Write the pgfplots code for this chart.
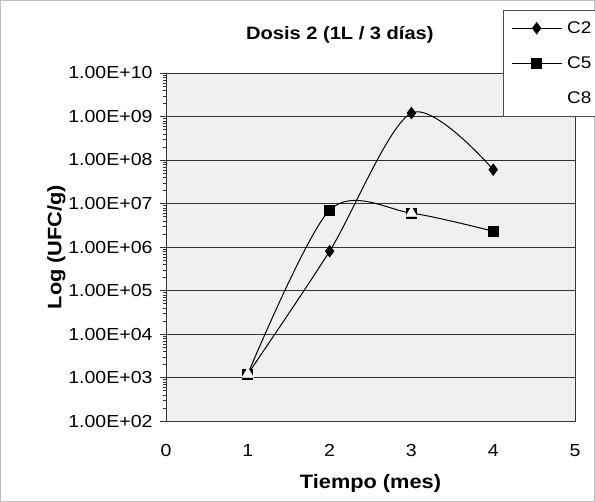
\documentclass[border=0pt]{standalone}
\usepackage{pgfplots}
\pgfplotsset{compat=1.18}
\usepackage{fontspec}
\setmainfont{Liberation Sans}[FakeStretch=1.12]

% valores (UFC/g)
\pgfplotstableread{
x y
1 1.2e3
2 8.0e5
3 1.2e9
4 6.0e7
}\cdos
\pgfplotstableread{
x y
1 1.2e3
2 7.0e6
3 6.0e6
4 2.3e6
}\ccinco
\pgfplotstableread{
x y
1 1.2e3
3 6.0e6
}\cocho

\begin{document}
\begin{tikzpicture}
\useasboundingbox (0,0) rectangle (595bp,502bp);
\draw[black!25] (0.5bp,0.5bp) rectangle (594.5bp,501.5bp);
\begin{axis}[
    at={(166bp,81bp)}, anchor=south west,
    scale only axis,
    width=409bp, height=348bp,
    ymode=log,
    xmin=0, xmax=5,
    ymin=1e2, ymax=1e10,
    xtick={0,1,2,3,4,5},
    ytick={1e2,1e3,1e4,1e5,1e6,1e7,1e8,1e9,1e10},
    yticklabels={1.00E+02,1.00E+03,1.00E+04,1.00E+05,1.00E+06,1.00E+07,1.00E+08,1.00E+09,1.00E+10},
    minor ytick={},
    /pgf/number format/assume math mode=true,
    ymajorgrids,
    grid style={black!80, line width=0.6pt},
    axis line style={black!80, line width=0.8pt},
    axis background/.style={fill=black!6},
    tick align=outside,
    major tick length=6bp,
    xtick style={draw=none},
    ytick style={black!80},
    xtick pos=bottom, ytick pos=left,
    tick label style={font=\fontsize{17.5}{20}\selectfont},
    yticklabel style={xshift=-4bp},
    xticklabel style={yshift=-14bp},
    xlabel={\textbf{Tiempo (mes)}},
    ylabel={\textbf{Log (UFC/g)}},
    label style={font=\fontsize{19.5}{22}\selectfont},
    xlabel style={yshift=-11bp},
    ylabel style={yshift=-4bp},
    clip=false,
    legend style={at={(rel axis cs:0.824,1.18)}, anchor=north west,
        draw=black!70, fill=white, font=\fontsize{17}{20}\selectfont,
        row sep=18bp, inner xsep=8bp, inner ysep=9bp,
        nodes={inner xsep=5bp}},
    legend cell align=left,
    legend image code/.code={
        \draw[line width=1pt, mark repeat=2, mark phase=2] plot coordinates {(0bp,0bp) (25bp,0bp) (50bp,0bp)};
    },
]
\addplot[black, line width=1pt, smooth, tension=0.5, mark=diamond*, mark size=5.5bp,
    mark options={fill=black}] table {\cdos};
\addlegendentry{C2}
\addplot[black, line width=1pt, smooth, tension=0.5, mark=square*, mark size=5bp,
    mark options={fill=black}] table {\ccinco};
\addlegendentry{C5}
\addplot[draw=none, mark=triangle*, mark size=6.5bp,
    mark options={fill=white, draw=white},
    legend image code/.code={\path (0bp,0bp) (50bp,0bp);}] table {\cocho};
\addlegendentry{C8}
\node[font=\bfseries\fontsize{18}{21}\selectfont] at (rel axis cs:0.425,1.109) {Dosis 2 (1L / 3 días)};
\end{axis}
\end{tikzpicture}
\end{document}
